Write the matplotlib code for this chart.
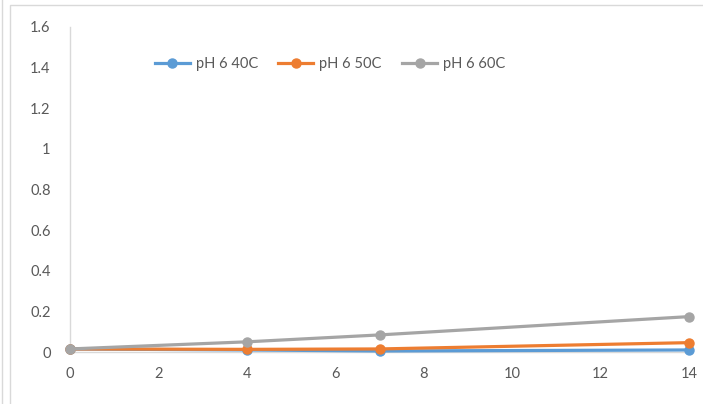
import matplotlib
matplotlib.use("Agg")
import matplotlib.pyplot as plt
from matplotlib.patches import Rectangle
from matplotlib.lines import Line2D

# Sampling days and measured values for each condition
days = [0, 4, 7, 14]
ph6_40c = [0.015, 0.010, 0.005, 0.010]
ph6_50c = [0.015, 0.013, 0.015, 0.046]
ph6_60c = [0.015, 0.050, 0.084, 0.174]

series_labels = ["pH 6 40C", "pH 6 50C", "pH 6 60C"]
colors = ["#5B9BD5", "#ED7D31", "#A5A5A5"]

y_ticks = [0, 0.2, 0.4, 0.6, 0.8, 1.0, 1.2, 1.4, 1.6]
y_tick_labels = ["0", "0.2", "0.4", "0.6", "0.8", "1", "1.2", "1.4", "1.6"]
x_ticks = [0, 2, 4, 6, 8, 10, 12, 14]

plt.rcParams["font.family"] = ["Lato", "DejaVu Sans"]

W, H = 703, 404
fig = plt.figure(figsize=(W / 100, H / 100), dpi=100)

# Chart frame lines
border = "#D9D9D9"
fig.add_artist(Rectangle((10 / W, -0.05), 1.1, (H - 5) / H + 0.05,
                         transform=fig.transFigure, fill=False,
                         edgecolor=border, linewidth=1.0))
fig.add_artist(Line2D([1.5 / W, 1.5 / W], [0, 1], transform=fig.transFigure,
                      color=border, linewidth=1.0))

left, right = 70 / W, 689 / W
bottom, top = 1 - 352 / H, 1 - 26.7 / H
ax = fig.add_axes([left, bottom, right - left, top - bottom])

for vals, lab, col in zip([ph6_40c, ph6_50c, ph6_60c], series_labels, colors):
    ax.plot(days, vals, color=col, linewidth=2.3, marker="o", markersize=6.5,
            label=lab, clip_on=False, zorder=3)

ax.set_xlim(0, 14)
ax.set_ylim(0, 1.6)
ax.set_xticks(x_ticks)
ax.set_xticklabels([str(v) for v in x_ticks])
ax.set_yticks(y_ticks)
ax.set_yticklabels(y_tick_labels)

for side in ["top", "right"]:
    ax.spines[side].set_visible(False)
for side in ["left", "bottom"]:
    ax.spines[side].set_color("#D9D9D9")
    ax.spines[side].set_linewidth(1.0)

ax.tick_params(axis="both", length=0, labelsize=10.5, labelcolor="#595959")
ax.tick_params(axis="x", pad=11)
ax.tick_params(axis="y", pad=14)

leg = ax.legend(loc="center", bbox_to_anchor=(0.42, 0.885), ncol=3,
                frameon=False, fontsize=10.5, handlelength=2.4,
                columnspacing=1.4, handletextpad=0.4)
for t in leg.get_texts():
    t.set_color("#595959")

fig.savefig("out.png", dpi=100)
